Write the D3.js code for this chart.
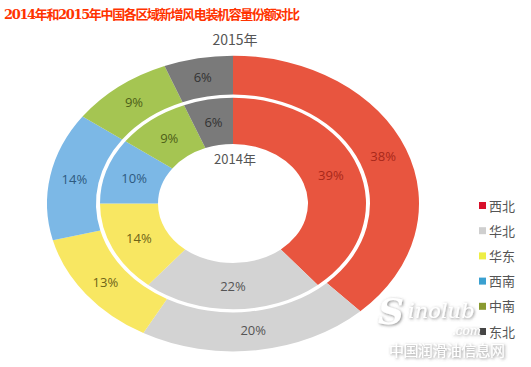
<!DOCTYPE html>
<html>
<head>
<meta charset="utf-8">
<script src="https://cdn.jsdelivr.net/npm/d3@7"></script>
<style>
  body { margin: 0; background: #fff; }
  svg { display: block; }
</style>
</head>
<body>
<svg id="chart" width="531" height="367"></svg>
<script>
// data
const regions = ['西北', '华北', '华东', '西南', '中南', '东北']
const share2015 = [38, 20, 13, 14, 9, 6]
const share2014 = [39, 22, 14, 10, 9, 6]
const ringTitles = ['2015年', '2014年']

const fillColors = ['#e8553f', '#d3d3d3', '#f8e762', '#7cb8e6', '#a5c552', '#7a7a7a']
const labelColors = ['#a8281a', '#555555', '#6e6418', '#2e5a80', '#4d6018', '#333333']
const legendColors = ['#d8102a', '#cfcfcf', '#eeee44', '#3aa0d0', '#8a9a30', '#444444']

const cx = 233
const cy = 203.5
const squash = 0.795

const svg = d3.select('#chart')

const color = d3.scaleOrdinal().domain(regions).range(fillColors)
const labelColor = d3.scaleOrdinal().domain(regions).range(labelColors)
const legendColor = d3.scaleOrdinal().domain(regions).range(legendColors)

// soft shadow for the watermark
let shadow = svg.append('defs').append('filter')
    .attr('id', 'wm-shadow')
    .attr('x', '-20%').attr('y', '-40%')
    .attr('width', '140%').attr('height', '180%')
shadow.append('feDropShadow')
  .attr('dx', 1).attr('dy', 1)
  .attr('stdDeviation', 1.5)
  .attr('flood-color', '#555')
  .attr('flood-opacity', 0.7)

// title
svg.append('text')
  .attr('x', 4)
  .attr('y', 19)
  .attr('fill', '#ff3300')
  .attr('font-family', '"DejaVu Serif", "Noto Sans CJK SC", serif')
  .attr('font-weight', 'bold')
  .attr('font-size', 13)
  .attr('textLength', 296)
  .text('2014年和2015年中国各区域新增风电装机容量份额对比')

const pie = d3.pie().sort(null).value(d => d.v)

const rings = [
  { values: share2015, inner: 137, outer: 186 },
  { values: share2014, inner: 75, outer: 133 }
]

// elliptical look: draw in a circle, squash in y
const donut = svg.append('g')
  .attr('transform', `translate(${cx},${cy}) scale(1,${squash})`)

rings.forEach(ring => {
  let arc = d3.arc().innerRadius(ring.inner).outerRadius(ring.outer)
  let arcs = pie(regions.map((r, i) => ({ r, v: ring.values[i] })))

  donut.append('g')
    .selectAll('path')
    .data(arcs)
    .join('path')
      .attr('d', arc)
      .attr('fill', d => color(d.data.r))

  // labels stay unsquashed
  svg.append('g')
    .selectAll('text')
    .data(arcs)
    .join('text')
      .attr('x', d => cx + arc.centroid(d)[0])
      .attr('y', d => cy + arc.centroid(d)[1] * squash)
      .attr('dy', '0.35em')
      .attr('text-anchor', 'middle')
      .attr('font-family', '"Open Sans", "Noto Sans", sans-serif')
      .attr('font-size', 13)
      .attr('fill', d => labelColor(d.data.r))
      .text(d => d.data.v + '%')
})

// ring titles
svg.append('text')
  .attr('x', cx + 2)
  .attr('y', 45)
  .attr('text-anchor', 'middle')
  .attr('font-family', '"Noto Sans CJK SC", sans-serif')
  .attr('font-size', 14)
  .attr('fill', '#555')
  .text(ringTitles[0])

svg.append('text')
  .attr('x', cx + 2)
  .attr('y', 164)
  .attr('text-anchor', 'middle')
  .attr('font-family', '"Noto Sans CJK SC", sans-serif')
  .attr('font-size', 13)
  .attr('fill', '#555')
  .text(ringTitles[1])

// legend
const legendY = d3.scalePoint().domain(regions).range([206, 332])

let legend = svg.append('g')
  .selectAll('g')
  .data(regions)
  .join('g')
    .attr('transform', d => `translate(479,${legendY(d)})`)

legend.append('rect')
  .attr('x', 0)
  .attr('y', -4)
  .attr('width', 7)
  .attr('height', 7)
  .attr('fill', d => legendColor(d))

legend.append('text')
  .attr('x', 10)
  .attr('dy', '0.35em')
  .attr('font-family', '"Noto Sans CJK SC", sans-serif')
  .attr('font-size', 13)
  .attr('fill', '#555')
  .text(d => d)

// watermark
let mark = svg.append('g')
    .attr('fill', '#fff')
    .attr('filter', 'url(#wm-shadow)')
mark.append('text')
  .attr('x', 378)
  .attr('y', 324)
  .attr('font-family', '"DejaVu Serif", serif')
  .attr('font-style', 'italic')
  .attr('font-weight', 'bold')
  .attr('font-size', 36)
  .text('S')
mark.append('text')
  .attr('x', 408)
  .attr('y', 318)
  .attr('font-family', '"DejaVu Serif", serif')
  .attr('font-style', 'italic')
  .attr('font-size', 21)
  .text('inolub')
mark.append('text')
  .attr('x', 452)
  .attr('y', 335)
  .attr('font-family', '"DejaVu Serif", serif')
  .attr('font-style', 'italic')
  .attr('font-size', 12)
  .text('.com')
mark.append('text')
  .attr('x', 389)
  .attr('y', 356)
  .attr('font-family', '"Noto Sans CJK SC", sans-serif')
  .attr('font-size', 15)
  .attr('textLength', 116)
  .text('中国润滑油信息网')
</script>
</body>
</html>
